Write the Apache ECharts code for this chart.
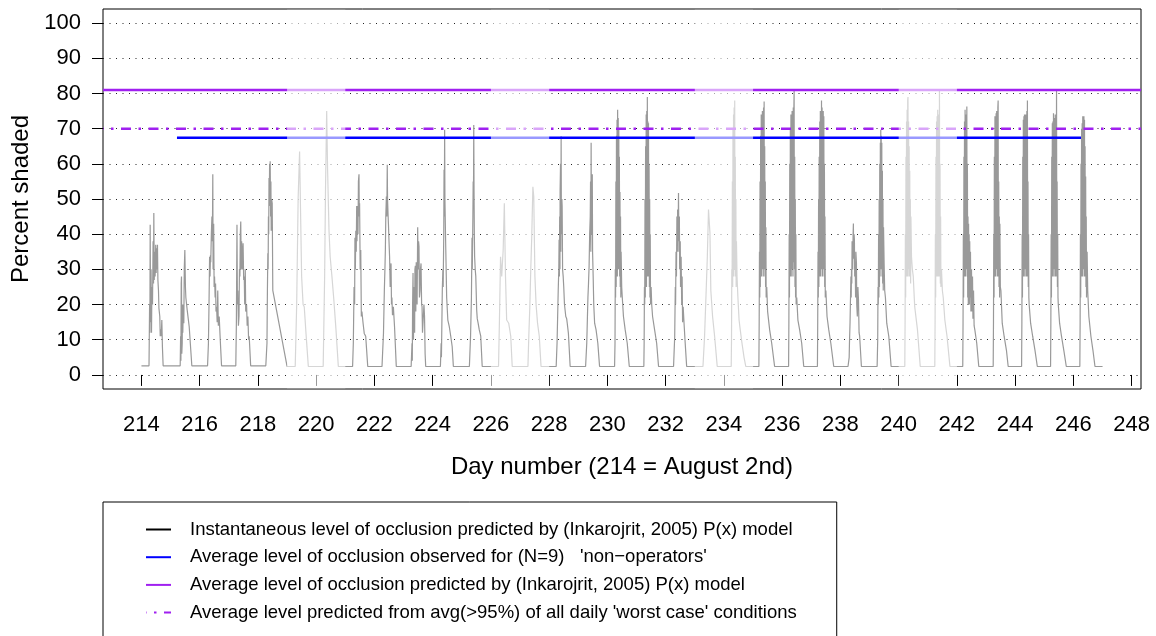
<!DOCTYPE html>
<html>
<head>
<meta charset="utf-8">
<script src="https://cdn.jsdelivr.net/npm/echarts@6/dist/echarts.min.js"></script>
<style>html,body{margin:0;padding:0;background:#fff}#c{width:1156px;height:636px}</style>
</head>
<body>
<div id="c"></div>
<script>
// ---------- data ----------
const xTicks = [214,216,218,220,222,224,226,228,230,232,234,236,238,240,242,244,246,248];
const yTicks = [0,10,20,30,40,50,60,70,80,90,100];
const weekends = [[219,221],[226,228],[233,235],[240,242]];
const dayNumbers = [214,215,216,217,218,219,220,221,222,223,224,225,226,227,228,229,230,231,232,233,234,235,236,237,238,239,240,241,242,243,244,245,246];
// per-day profiles: [fraction of day, percent shaded]
const d214 = [[0,2.6],[0.26,2.6],[0.28,20],[0.29,12],[0.30,42.7],[0.315,15],[0.33,30],[0.345,12],[0.36,25],[0.38,20],[0.40,38],[0.415,26],[0.425,46],[0.44,27],[0.46,35],[0.47,28],[0.49,37],[0.505,29],[0.52,36],[0.53,30],[0.55,37],[0.565,27],[0.585,24],[0.60,19],[0.63,16.6],[0.645,11],[0.665,13],[0.68,11],[0.70,15.6],[0.72,8],[0.745,2.6]];
const d215 = [[0,2.6],[0.33,2.6],[0.345,11],[0.355,4],[0.365,26],[0.375,28],[0.385,6],[0.40,9],[0.41,20],[0.42,12],[0.44,20],[0.455,14.7],[0.47,30],[0.49,35.5],[0.51,25],[0.525,22],[0.57,18.5],[0.64,13.7],[0.73,2.6]];
const d216 = [[0,2.6],[0.27,2.6],[0.30,9],[0.32,20],[0.34,33.6],[0.355,28],[0.37,34],[0.38,32],[0.40,40],[0.42,45],[0.435,38],[0.45,57],[0.46,30],[0.48,43],[0.495,25],[0.51,28],[0.53,22],[0.545,26],[0.56,18],[0.58,19.4],[0.60,15],[0.62,24],[0.64,14],[0.67,16.6],[0.70,11],[0.75,2.6]];
const d217 = [[0,2.6],[0.24,2.6],[0.26,15],[0.28,42.7],[0.295,20],[0.31,24],[0.33,14],[0.35,16.6],[0.365,30],[0.38,28],[0.395,40],[0.41,43.6],[0.425,30],[0.44,38],[0.45,35.5],[0.47,30],[0.49,37.4],[0.51,27],[0.53,28],[0.545,20],[0.565,30],[0.58,18],[0.61,20],[0.63,14],[0.655,16.6],[0.68,10],[0.70,11],[0.75,2.6]];
const d218 = [[0,2.6],[0.27,2.6],[0.31,9],[0.325,24],[0.34,34.6],[0.35,30],[0.36,45],[0.37,40],[0.38,56],[0.39,48],[0.40,60],[0.41,52],[0.42,60.7],[0.435,45],[0.445,55],[0.455,41],[0.47,50],[0.49,48.8],[0.51,24]];
const d219 = [[0,2.4],[0.28,2.4],[0.33,20],[0.38,50],[0.43,63.5],[0.47,43],[0.50,28],[0.55,20],[0.59,19.4],[0.65,11.8],[0.73,2.4]];
const d220 = [[0,2.4],[0.24,2.4],[0.29,28],[0.32,52.6],[0.36,75],[0.39,58.8],[0.44,41],[0.48,33.6],[0.54,28],[0.60,22],[0.68,12.8],[0.76,2.4]];
const d221 = [[0,2.4],[0.25,2.4],[0.275,9],[0.30,25],[0.32,20],[0.33,39],[0.345,30],[0.36,41],[0.375,35],[0.39,48],[0.40,38],[0.42,48],[0.435,40],[0.45,55],[0.47,57],[0.48,45],[0.49,48.8],[0.51,30],[0.53,35.5],[0.55,16.6],[0.57,18],[0.61,14.7],[0.65,11.8],[0.70,11],[0.77,2.4]];
const d222 = [[0,2.4],[0.26,2.4],[0.31,11.8],[0.34,24],[0.36,30],[0.375,35.5],[0.39,45],[0.41,50.7],[0.425,45],[0.44,59.7],[0.45,50],[0.47,45],[0.48,43],[0.50,38],[0.52,33.6],[0.54,25],[0.57,31.7],[0.585,20],[0.60,22],[0.62,17],[0.65,19.4],[0.69,13.7],[0.75,2.4]];
const d223 = [[0,2.4],[0.26,2.4],[0.29,9],[0.30,4],[0.31,20],[0.325,29],[0.34,10],[0.355,25],[0.37,22],[0.38,12],[0.39,30],[0.405,31],[0.42,18],[0.435,32],[0.45,28],[0.465,20],[0.485,42],[0.50,30],[0.515,38],[0.53,36.5],[0.545,22],[0.565,24],[0.58,30],[0.60,31.7],[0.62,20],[0.635,19.4],[0.65,12],[0.68,11.8],[0.70,20],[0.72,16.6],[0.74,6],[0.76,2.4]];
const d224 = [[0,2.4],[0.265,2.4],[0.29,9],[0.30,5],[0.33,24],[0.35,30],[0.36,25],[0.38,40],[0.39,58.3],[0.40,45],[0.41,69.7],[0.42,50],[0.44,40],[0.45,35.5],[0.48,22],[0.52,15.6],[0.57,13.7],[0.62,11],[0.67,8],[0.71,2.4]];
const d225 = [[0,2.4],[0.26,2.4],[0.30,11],[0.33,22],[0.35,39],[0.36,30],[0.38,45],[0.39,55],[0.40,48],[0.41,71],[0.42,52],[0.43,40],[0.44,33.6],[0.46,30],[0.48,28],[0.51,18.5],[0.53,16],[0.56,14.7],[0.60,12.8],[0.65,11],[0.70,2.4]];
const d226 = [[0,2.4],[0.26,2.4],[0.29,14.7],[0.33,33.6],[0.37,28],[0.42,35.5],[0.46,48.8],[0.50,28],[0.54,15.6],[0.61,14.7],[0.68,11],[0.73,2.4]];
const d227 = [[0,2.4],[0.27,2.4],[0.30,11],[0.335,19.4],[0.37,30.8],[0.40,39],[0.44,53.5],[0.47,50.7],[0.51,28],[0.55,20],[0.60,14.7],[0.66,11],[0.72,2.4]];
const d228 = [[0,2.4],[0.24,2.4],[0.27,9],[0.31,24],[0.33,30],[0.34,38.4],[0.35,28],[0.36,45],[0.37,30],[0.375,52.6],[0.39,60],[0.40,35],[0.41,67.8],[0.42,40],[0.435,50],[0.445,48],[0.46,30],[0.48,28],[0.50,25],[0.525,20],[0.57,16.6],[0.60,16],[0.62,14.7],[0.66,11.8],[0.72,2.4]];
const d229 = [[0,2.4],[0.25,2.4],[0.29,9],[0.33,22],[0.35,26],[0.37,30.8],[0.39,40],[0.41,45],[0.42,55],[0.43,35],[0.44,66],[0.45,40],[0.46,50],[0.48,57],[0.49,35],[0.51,28],[0.53,20],[0.56,14.7],[0.61,12.8],[0.67,9],[0.73,2.4]];
const d230 = [[0,2.4],[0.245,2.4],[0.26,9],[0.27,30],[0.28,22],[0.29,55],[0.30,25],[0.31,68],[0.32,30],[0.33,72.5],[0.34,28],[0.35,75.4],[0.36,35],[0.37,73],[0.38,30],[0.39,70],[0.40,32],[0.41,62],[0.42,28],[0.43,52],[0.44,25],[0.45,45],[0.46,22],[0.47,35],[0.49,25],[0.51,22],[0.55,16.6],[0.61,12.8],[0.68,9],[0.75,2.4]];
const d231 = [[0,2.4],[0.25,2.4],[0.26,9],[0.27,25],[0.28,20],[0.29,50],[0.30,22],[0.31,65],[0.32,28],[0.33,74],[0.34,25],[0.35,75],[0.36,30],[0.37,79],[0.38,28],[0.39,72],[0.40,32],[0.41,71.5],[0.42,28],[0.43,60],[0.44,25],[0.45,50],[0.46,22],[0.47,40],[0.48,20],[0.50,25],[0.52,20],[0.55,16.6],[0.62,12.8],[0.69,9],[0.755,2.4]];
const d232 = [[0,2.4],[0.27,2.4],[0.31,11],[0.33,25],[0.34,20],[0.355,35],[0.37,28],[0.385,45],[0.40,35],[0.41,47],[0.425,38],[0.44,51.7],[0.455,35],[0.47,45],[0.48,30],[0.50,38],[0.51,25],[0.53,33.6],[0.55,20],[0.565,28],[0.58,15],[0.60,19.4],[0.63,14.7],[0.67,9],[0.72,2.4]];
const d233 = [[0,2.4],[0.28,2.4],[0.335,11],[0.39,24],[0.43,33.6],[0.47,47],[0.52,40.3],[0.55,24],[0.61,16.6],[0.68,11],[0.77,2.4]];
const d234 = [[0,2.4],[0.25,2.4],[0.26,10],[0.27,30],[0.28,25],[0.29,55],[0.30,25],[0.31,70],[0.32,30],[0.33,74],[0.34,28],[0.35,76],[0.36,32],[0.37,78],[0.38,30],[0.39,62],[0.40,28],[0.41,50],[0.42,25],[0.43,38],[0.45,28],[0.48,22],[0.52,15.6],[0.56,12.8],[0.62,9],[0.69,5],[0.75,2.4]];
const d235 = [[0,2.4],[0.20,2.4],[0.21,15],[0.22,35],[0.23,22],[0.24,55],[0.25,25],[0.26,68],[0.27,30],[0.28,74],[0.29,28],[0.30,73],[0.31,32],[0.32,75],[0.33,30],[0.34,72],[0.35,28],[0.36,76],[0.37,32],[0.38,77.7],[0.39,30],[0.40,65],[0.41,28],[0.42,55],[0.43,25],[0.44,42],[0.45,22],[0.47,25],[0.50,18],[0.57,12.8],[0.64,9],[0.74,2.4]];
const d236 = [[0,2.4],[0.22,2.4],[0.23,15],[0.24,40],[0.25,22],[0.26,60],[0.27,28],[0.28,70],[0.29,30],[0.30,74],[0.31,28],[0.32,73],[0.33,32],[0.34,75],[0.35,30],[0.36,74],[0.37,28],[0.38,76],[0.39,32],[0.40,75],[0.41,81],[0.42,30],[0.43,62],[0.44,25],[0.45,50],[0.46,22],[0.47,40],[0.48,20],[0.50,22],[0.54,15.6],[0.60,12.8],[0.67,9],[0.74,2.4]];
const d237 = [[0,2.4],[0.21,2.4],[0.22,15],[0.23,35],[0.24,22],[0.25,50],[0.26,25],[0.27,62],[0.28,28],[0.29,72],[0.30,30],[0.31,75],[0.32,28],[0.33,74],[0.34,32],[0.35,78],[0.36,30],[0.37,76],[0.38,28],[0.39,74],[0.40,32],[0.41,75],[0.42,30],[0.43,73.5],[0.44,28],[0.45,60],[0.46,25],[0.47,45],[0.48,22],[0.50,24],[0.54,16.6],[0.60,12.8],[0.67,9],[0.77,2.4]];
const d238 = [[0,2.4],[0.26,2.4],[0.30,5],[0.31,9],[0.33,15],[0.34,19.4],[0.36,28],[0.37,22],[0.38,30],[0.39,26],[0.40,38],[0.41,35.5],[0.42,30],[0.435,40],[0.445,43],[0.455,33],[0.47,40],[0.48,38.4],[0.49,28],[0.51,30],[0.52,22],[0.53,35],[0.55,31.7],[0.56,20],[0.58,16.6],[0.60,25],[0.62,21.3],[0.64,12],[0.66,11],[0.72,2.4]];
const d239 = [[0,2.4],[0.26,2.4],[0.28,10],[0.29,25],[0.30,20],[0.31,40],[0.32,22],[0.33,50],[0.34,25],[0.35,60],[0.36,28],[0.37,66],[0.38,30],[0.385,69.7],[0.39,32],[0.40,68],[0.41,30],[0.42,66],[0.43,28],[0.44,58],[0.45,26],[0.46,50],[0.47,24],[0.48,42],[0.50,31.7],[0.52,24],[0.545,22],[0.59,14.7],[0.66,11],[0.74,2.4]];
const d240 = [[0,2.4],[0.21,2.4],[0.22,15],[0.23,40],[0.24,22],[0.25,62],[0.26,28],[0.27,72],[0.28,30],[0.29,75.4],[0.30,28],[0.31,78],[0.32,79],[0.33,30],[0.34,72],[0.35,28],[0.36,65],[0.37,30],[0.38,58],[0.39,28],[0.40,50],[0.41,26],[0.42,45],[0.44,33.6],[0.47,30],[0.50,28],[0.55,19.4],[0.645,12.8],[0.74,2.4]];
const d241 = [[0,2.4],[0.24,2.4],[0.25,15],[0.26,40],[0.27,22],[0.28,62],[0.29,28],[0.30,72],[0.31,30],[0.32,73.5],[0.33,28],[0.34,75.4],[0.35,30],[0.36,74],[0.37,28],[0.38,72],[0.39,30],[0.40,81],[0.41,28],[0.42,60],[0.43,26],[0.44,45],[0.45,25],[0.47,30],[0.50,24],[0.53,22],[0.585,15.6],[0.66,11],[0.76,2.4]];
const d242 = [[0,2.4],[0.20,2.4],[0.21,15],[0.22,40],[0.23,22],[0.24,62],[0.25,28],[0.26,72],[0.27,30],[0.28,75.4],[0.29,28],[0.30,74],[0.31,32],[0.32,73.5],[0.33,30],[0.34,76.3],[0.35,28],[0.36,60],[0.37,22],[0.38,45],[0.39,20],[0.40,43],[0.41,22],[0.42,40],[0.43,20],[0.44,38],[0.45,22],[0.465,35],[0.48,18],[0.50,30],[0.52,18],[0.535,28],[0.55,16],[0.57,24],[0.59,14],[0.615,12.8],[0.68,9],[0.75,2.4]];
const d243 = [[0,2.4],[0.245,2.4],[0.255,15],[0.265,40],[0.275,22],[0.285,62],[0.295,28],[0.305,73.5],[0.315,30],[0.325,72],[0.335,28],[0.345,74.4],[0.355,32],[0.365,75],[0.375,30],[0.385,71.5],[0.395,28],[0.405,76],[0.415,78],[0.425,28],[0.435,55],[0.445,25],[0.455,45],[0.465,22],[0.475,43],[0.49,25],[0.51,24],[0.555,14.7],[0.62,11],[0.70,7],[0.76,2.4]];
const d244 = [[0,2.4],[0.22,2.4],[0.23,15],[0.24,40],[0.25,22],[0.26,62],[0.27,28],[0.28,72.5],[0.29,30],[0.30,73.5],[0.31,28],[0.32,74],[0.33,32],[0.34,73.5],[0.35,30],[0.36,74],[0.37,28],[0.38,73],[0.39,30],[0.40,75],[0.41,28],[0.42,78],[0.43,30],[0.44,55],[0.45,25],[0.46,40],[0.47,22],[0.48,20],[0.53,14.7],[0.60,11],[0.68,7],[0.76,2.4]];
const d245 = [[0,2.4],[0.215,2.4],[0.225,15],[0.235,40],[0.245,22],[0.255,62],[0.265,28],[0.275,71.5],[0.285,30],[0.295,72],[0.305,28],[0.315,74.4],[0.325,32],[0.335,73],[0.345,30],[0.355,72.5],[0.365,28],[0.375,74],[0.385,30],[0.395,73],[0.405,28],[0.42,81],[0.43,30],[0.44,55],[0.45,25],[0.46,40],[0.47,22],[0.48,20],[0.525,14.7],[0.59,11],[0.67,7],[0.755,2.4]];
const d246 = [[0,2.4],[0.22,2.4],[0.23,15],[0.24,40],[0.25,22],[0.26,60],[0.27,28],[0.28,70],[0.29,30],[0.30,71.5],[0.31,28],[0.32,73.5],[0.33,32],[0.34,72],[0.35,30],[0.36,73.5],[0.37,28],[0.38,72.5],[0.39,30],[0.40,65],[0.41,28],[0.42,56.4],[0.43,25],[0.44,45],[0.45,22],[0.47,35],[0.49,24],[0.53,16.6],[0.60,11],[0.67,7],[0.74,2.4],[1.0,2.4]];
const dayProfiles = [d214,d215,d216,d217,d218,d219,d220,d221,d222,d223,d224,d225,d226,d227,d228,d229,d230,d231,d232,d233,d234,d235,d236,d237,d238,d239,d240,d241,d242,d243,d244,d245,d246];
const observedAvg = 67.4;      // blue, non-operators
const observedRange = [215.22, 246.26];
const predictedAvg = 81;       // purple
const worstCaseAvg = 70;       // purple dot-dash
const xRange = [212.68, 248.32];
const yRange = [-4, 104];

const names = [
  "Instantaneous level of occlusion predicted by (Inkarojrit, 2005) P(x) model",
  "Average level of occlusion observed for (N=9)   'non\u2212operators'",
  "Average level of occlusion predicted by (Inkarojrit, 2005) P(x) model",
  "Average level predicted from avg(>95%) of all daily 'worst case' conditions"
];

// ---------- build ----------
const trace = [];
dayProfiles.forEach((prof, i) => prof.forEach(p => trace.push([dayNumbers[i] + p[0], p[1]])));

const FONT = 'Liberation Sans';
const hideSym = {opacity: 0};
const chart = echarts.init(document.getElementById('c'), null, {renderer: 'canvas'});
chart.setOption({
  animation: false,
  textStyle: {fontFamily: FONT},
  grid: {left: 103, top: 9, right: 15, bottom: 247, show: true, borderColor: '#000', borderWidth: 1, backgroundColor: 'transparent', containLabel: false},
  xAxis: {
    type: 'value', min: xRange[0], max: xRange[1],
    axisLine: {show: false},
    splitLine: {show: false},
    axisTick: {show: true, inside: false, length: 11, customValues: xTicks, lineStyle: {color: '#000', width: 1}},
    axisLabel: {customValues: xTicks, margin: 25, fontSize: 22, color: '#000', fontFamily: FONT},
    name: 'Day number (214 = August 2nd)', nameLocation: 'middle', nameGap: 66,
    nameTextStyle: {fontSize: 24, color: '#000', fontFamily: FONT}
  },
  yAxis: {
    type: 'value', min: yRange[0], max: yRange[1],
    axisLine: {show: false},
    splitLine: {show: false},
    axisTick: {show: true, inside: false, length: 11, customValues: yTicks, lineStyle: {color: '#000', width: 1}},
    axisLabel: {customValues: yTicks, margin: 22, fontSize: 22, color: '#000', fontFamily: FONT},
    name: 'Percent shaded', nameLocation: 'middle', nameGap: 68, nameRotate: 90,
    nameTextStyle: {fontSize: 24, color: '#000', fontFamily: FONT}
  },
  legend: {
    orient: 'vertical', left: 103, top: 502, height: 220,
    padding: [18, 40, 30, 42], itemWidth: 25, itemHeight: 14, itemGap: 8.7,
    borderColor: '#000', borderWidth: 1, borderRadius: 0,
    textStyle: {fontSize: 18.5, color: '#000', fontFamily: FONT, padding: [0, 0, 0, 14]},
    itemStyle: hideSym,
    selectedMode: false,
    data: [
      {name: names[0], lineStyle: {color: '#000', width: 2}, itemStyle: {color: '#000', opacity: 0}},
      {name: names[1], itemStyle: hideSym},
      {name: names[2], itemStyle: hideSym},
      {name: names[3], itemStyle: hideSym}
    ]
  },
  series: [
    {
      type: 'line', name: 'grid', silent: true, data: [], z: 1,
      markLine: {z: 1, silent: true, symbol: 'none', label: {show: false},
        lineStyle: {color: '#222', width: 1, type: [1, 5.5]},
        data: yTicks.map(v => ({yAxis: v}))}
    },
    {
      type: 'line', name: names[0], data: trace, showSymbol: false, symbol: 'none', z: 2,
      lineStyle: {color: '#999999', width: 1.2}, itemStyle: {color: '#999999'}
    },
    {
      type: 'line', name: names[1], data: [[observedRange[0], observedAvg], [observedRange[1], observedAvg]],
      showSymbol: false, symbol: 'none', z: 3,
      lineStyle: {color: '#0000ff', width: 2.5}, itemStyle: {color: '#0000ff'}
    },
    {
      type: 'line', name: names[2], data: [[xRange[0], predictedAvg], [xRange[1], predictedAvg]],
      showSymbol: false, symbol: 'none', z: 3,
      lineStyle: {color: '#a020f0', width: 2.5}, itemStyle: {color: '#a020f0'}
    },
    {
      type: 'line', name: names[3], data: [[xRange[0], worstCaseAvg], [xRange[1], worstCaseAvg]],
      showSymbol: false, symbol: 'none', z: 3,
      lineStyle: {color: '#a020f0', width: 2.5, type: [2.5, 7.5, 10, 7.5], dashOffset: -8}, itemStyle: {color: '#a020f0'}
    },
    {
      type: 'line', name: 'weekend', silent: true, data: [[xRange[0], -10]], z: 10, symbol: 'none', showSymbol: false,
      lineStyle: {opacity: 0},
      markArea: {z: 10, silent: true, itemStyle: {color: '#ffffff', opacity: 0.6},
        data: weekends.map(w => [{xAxis: w[0], yAxis: -3.8}, {xAxis: w[1], yAxis: 103.8}])}
    }
  ]
});
</script>
</body>
</html>
